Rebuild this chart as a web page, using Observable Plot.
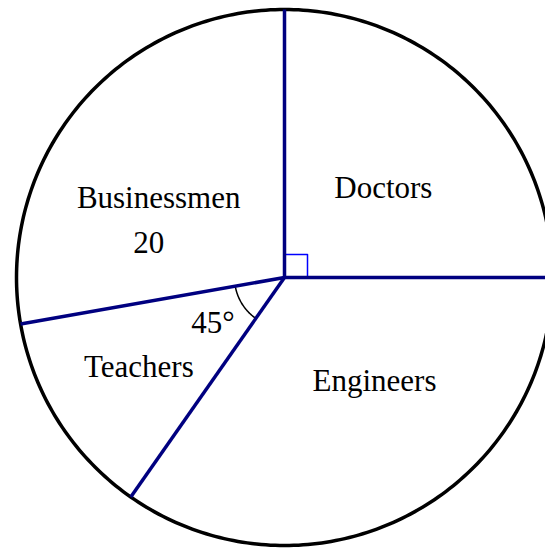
<!DOCTYPE html>
<html>
<head>
<meta charset="utf-8">
<script src="https://cdn.jsdelivr.net/npm/d3@7"></script>
<script src="https://cdn.jsdelivr.net/npm/@observablehq/plot@0.6"></script>
<style>
  html, body { margin: 0; padding: 0; background: #fff; }
  #chart svg { display: block; }
</style>
</head>
<body>
<div id="chart"></div>
<script>
// ---- data ----
const categories = ["Doctors", "Businessmen", "Teachers", "Engineers"];
const sectorAngles = [90, 100, 45, 125];          // degrees, counter-clockwise from 3 o'clock
const valueLabels = ["", "20", "", ""];           // values printed in the chart
const markedAngleLabel = "45°";                   // angle marked between Businessmen and Teachers

// ---- layout ----
const W = 545, H = 548;
const CX = 284, CY = 277, R = 268;
const FS = 31;
const FONT = "'Liberation Serif', 'Times New Roman', serif";
// label placement: angle (deg) and distance from centre
const labelPolar = [[42.0, 133], [147.6, 149], [211.6, 171], [310.9, 137.5]];
const valuePolar = [165.8, 140];
const anglePolar = [212.6, 85];
const rad = d => d * Math.PI / 180;
const pol = (a, r) => ({x: r * Math.cos(rad(a)), y: r * Math.sin(rad(a))});

// boundaries
const starts = [];
let acc = 0;
sectorAngles.forEach(a => { starts.push(acc); acc += a; });
const boundaries = starts.map(a => ({a, ...pol(a, R)}));

const circle = d3.range(0, 361, 1).map(a => pol(a, R));
const arcA0 = starts[2], arcA1 = starts[2] + sectorAngles[2];
const angleArc = d3.range(arcA0, arcA1 + 0.5, 1).map(a => pol(a, 50));
const sq = 23;
const rightAngle = [[0, 0], [sq, 0], [sq, sq], [0, sq], [0, 0]].map(([x, y]) => ({x, y}));

const labels = categories.map((c, i) => ({text: c, ...pol(labelPolar[i][0], labelPolar[i][1])}));
const vlabels = valueLabels.map((v, i) => v ? {text: v, ...pol(valuePolar[0], valuePolar[1])} : null).filter(Boolean);
const angLabel = [{text: markedAngleLabel, ...pol(anglePolar[0], anglePolar[1])}];

const plot = Plot.plot({
  width: W, height: H,
  margin: 0,
  x: {domain: [-CX, W - CX], axis: null},
  y: {domain: [CY - H, CY], axis: null},
  style: {fontFamily: FONT, background: "#fff"},
  marks: [
    Plot.line(circle, {x: "x", y: "y", stroke: "#000", strokeWidth: 3.5}),
    Plot.line(angleArc, {x: "x", y: "y", stroke: "#000", strokeWidth: 1.5}),
    Plot.line(rightAngle, {x: "x", y: "y", stroke: "#0000ff", strokeWidth: 1.5}),
    Plot.link(boundaries, {x1: () => 0, y1: () => 0, x2: "x", y2: "y", stroke: "#000080", strokeWidth: 3.5}),
    Plot.text(labels, {x: "x", y: "y", text: "text", fontSize: FS, fill: "#000"}),
    Plot.text(vlabels, {x: "x", y: "y", text: "text", fontSize: FS, fill: "#000"}),
    Plot.text(angLabel, {x: "x", y: "y", text: "text", fontSize: FS, fill: "#000"})
  ]
});
document.getElementById("chart").appendChild(plot);
</script>
</body>
</html>
